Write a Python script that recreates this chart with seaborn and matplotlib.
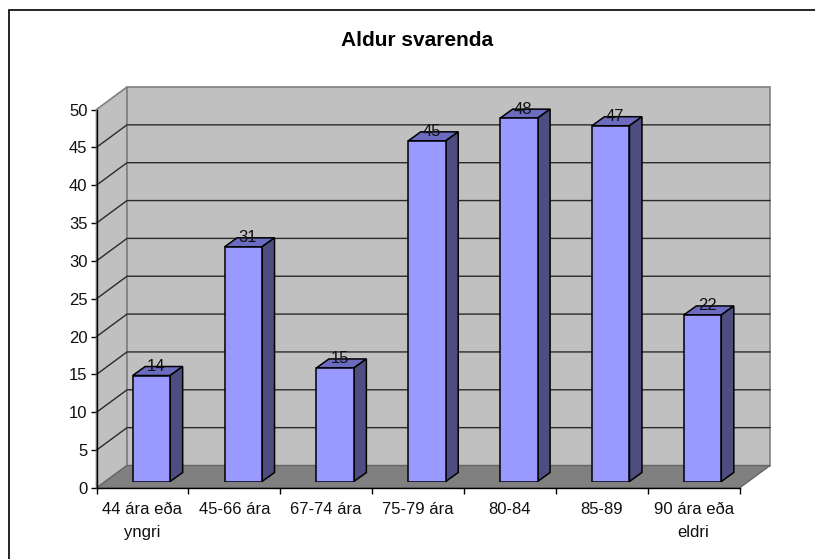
import matplotlib
matplotlib.use("Agg")
import matplotlib.pyplot as plt
import pandas as pd
import seaborn as sns
from matplotlib.patches import Polygon, Rectangle
from matplotlib.transforms import IdentityTransform

# Data
categories = ["44 ára eða\nyngri", "45-66 ára", "67-74 ára", "75-79 ára", "80-84", "85-89", "90 ára eða\neldri"]
counts = [14, 31, 15, 45, 48, 47, 22]
y_ticks = [0, 5, 10, 15, 20, 25, 30, 35, 40, 45, 50]

W, H = 815, 559
# plot box in pixels (front plane)
left, right, top, bottom = 96.5, 739.5, 109.5, 488.0
depth_x, depth_y = 30.5, 22.5
bar_dx, bar_dy = 9.0, 6.5
bar_depth_x, bar_depth_y = 12.5, 9.0

sns.set_style("white")
plt.rcParams["font.family"] = ["Liberation Sans", "DejaVu Sans"]

fig = plt.figure(figsize=(W / 100, H / 100), dpi=100, facecolor="white")


def box(dx=0.0, dy=0.0):
    return [(left + dx) / W, 1 - (bottom - dy) / H, (right - left) / W, (bottom - top) / H]


ax = fig.add_axes(box())
ax.set_xlim(-0.5, len(categories) - 0.5)
ax.set_ylim(0, 50)
ax.patch.set_visible(False)

# outer frame
fig.add_artist(Rectangle((8.5 / W, -0.01), (W + 10) / W, 1 - 10 / H + 0.01, transform=fig.transFigure,
                         facecolor="none", edgecolor="black", linewidth=1.2))


def to_px(x, y, dx=0.0, dy=0.0):
    px, py = ax.transData.transform((x, y))
    return (px + dx, py + dy)


def face(points, target=None, **kw):
    p = Polygon(points, closed=True, transform=IdentityTransform(), clip_on=False, **kw)
    (target or ax).add_patch(p)


x0, x1 = ax.get_xlim()
wall_edge = "#808080"
# walls and floor
face([to_px(x0, 0), to_px(x0, 50), to_px(x0, 50, depth_x, depth_y), to_px(x0, 0, depth_x, depth_y)],
     facecolor="#C0C0C0", edgecolor=wall_edge, linewidth=1.2, zorder=1)
face([to_px(x0, 0, depth_x, depth_y), to_px(x0, 50, depth_x, depth_y), to_px(x1, 50, depth_x, depth_y),
      to_px(x1, 0, depth_x, depth_y)], facecolor="#C0C0C0", edgecolor=wall_edge, linewidth=1.2, zorder=1)
face([to_px(x0, 0), to_px(x1, 0), to_px(x1, 0, depth_x, depth_y), to_px(x0, 0, depth_x, depth_y)],
     facecolor="#808080", edgecolor="#666666", linewidth=1, zorder=2)

# gridlines on the side and back wall
for v in y_ticks[1:-1]:
    a = to_px(x0, v)
    b = to_px(x0, v, depth_x, depth_y)
    c = to_px(x1, v, depth_x, depth_y)
    ax.plot([a[0], b[0], c[0]], [a[1], b[1], c[1]], color="#2a2a2a", linewidth=1.0,
            transform=IdentityTransform(), clip_on=False, zorder=3, solid_joinstyle="miter")

# axes
for side in ["top", "right"]:
    ax.spines[side].set_visible(False)
for side in ["left", "bottom"]:
    ax.spines[side].set_visible(True)
    ax.spines[side].set_color("black")
    ax.spines[side].set_linewidth(1)
    ax.spines[side].set_zorder(4)
ax.set_yticks(y_ticks)
ax.tick_params(axis="y", which="major", left=True, length=4.3, width=1, color="black", labelsize=12, pad=2.2,
               labelcolor="#111111")
ax.set_xticks([i - 0.5 for i in range(len(categories) + 1)])
ax.set_xticklabels([])
ax.set_xticks(range(len(categories)), labels=categories, minor=True)
ax.tick_params(axis="x", which="major", bottom=True, length=4.3, width=1, color="black")
ax.tick_params(axis="x", which="minor", bottom=False, length=0, labelsize=12, pad=10, labelcolor="#111111")
for lab in ax.get_xticklabels(minor=True):
    lab.set_linespacing(1.65)
    lab.set_verticalalignment("top")

# bars live on an overlaid axes, shifted into the middle of the floor
ax_bars = fig.add_axes(box(bar_dx, bar_dy))
ax_bars.patch.set_visible(False)
df = pd.DataFrame({"group": categories, "count": counts})
sns.barplot(data=df, x="group", y="count", color="#9999FF", saturation=1, width=0.408,
            edgecolor="black", linewidth=1.1, ax=ax_bars, zorder=5)
ax_bars.set_xlim(x0, x1)
ax_bars.set_ylim(0, 50)
ax_bars.axis("off")

for bar, value in zip(ax_bars.patches, counts):
    xa, xb = bar.get_x(), bar.get_x() + bar.get_width()
    pa = ax_bars.transData.transform((xa, value))
    pb = ax_bars.transData.transform((xb, value))
    pz = ax_bars.transData.transform((xb, 0))
    top_face = [tuple(pa), tuple(pb), (pb[0] + bar_depth_x, pb[1] + bar_depth_y), (pa[0] + bar_depth_x, pa[1] + bar_depth_y)]
    side_face = [tuple(pb), tuple(pz), (pz[0] + bar_depth_x, pz[1] + bar_depth_y), (pb[0] + bar_depth_x, pb[1] + bar_depth_y)]
    face(top_face, ax_bars, facecolor="#6B6BBF", edgecolor="black", linewidth=1.1, zorder=4)
    face(side_face, ax_bars, facecolor="#4D4D80", edgecolor="black", linewidth=1.1, zorder=4)
    ax_bars.annotate(str(value), xy=((pa[0] + pb[0]) / 2 + 4.5, pa[1] + 9), xycoords=IdentityTransform(),
                     ha="center", va="center", fontsize=12, color="#111111", zorder=6, annotation_clip=False)

fig.text(417 / W, 1 - 41 / H, "Aldur svarenda", ha="center", va="center", fontsize=15, fontweight="bold", color="black")

fig.savefig("out.png", dpi=100)
